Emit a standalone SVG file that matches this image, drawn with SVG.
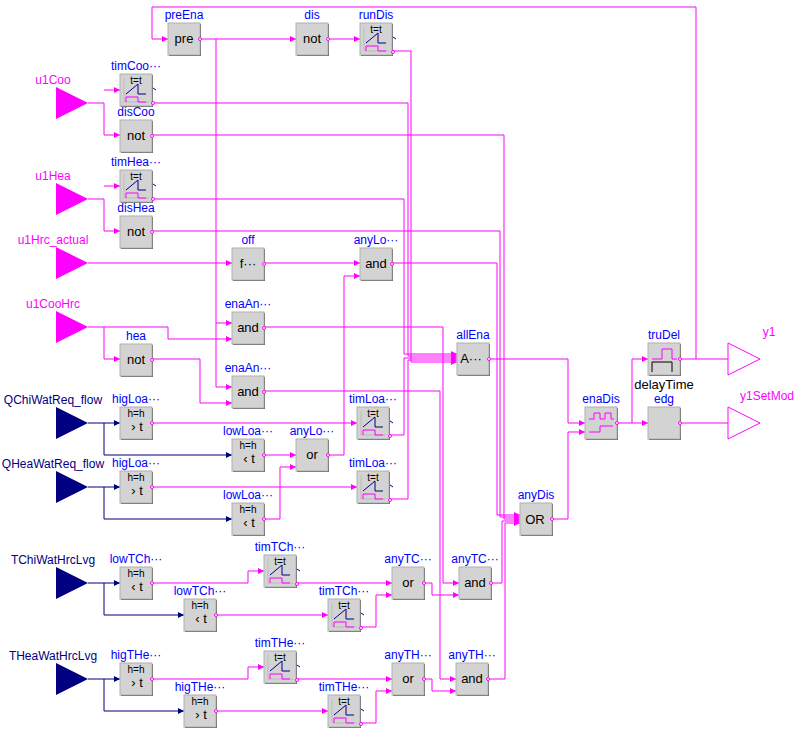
<svg xmlns="http://www.w3.org/2000/svg" xmlns:xlink="http://www.w3.org/1999/xlink" width="800" height="734" viewBox="0 0 800 734">
<style>
text{font-family:"Liberation Sans",Arial,sans-serif}
.n{fill:#0000ff;font-size:12px;text-anchor:middle}
.in{fill:#000;font-size:13px;text-anchor:middle}
.bl{fill:#ff00ff;font-size:12px;text-anchor:middle}
.rl{fill:#000080;font-size:12px;text-anchor:middle}
.c path{fill:none;stroke:#ff00ff;stroke-width:1}
.c path.r{stroke:#000080}
</style>
<defs>
<marker id="a" viewBox="0 0 6 6" refX="6" refY="3" markerUnits="userSpaceOnUse" markerWidth="6" markerHeight="6" orient="auto"><path d="M0,0L6,3L0,6z" fill="#ff00ff"/></marker>
<marker id="ar" viewBox="0 0 6 6" refX="6" refY="3" markerUnits="userSpaceOnUse" markerWidth="6" markerHeight="6" orient="auto"><path d="M0,0L6,3L0,6z" fill="#000080"/></marker>
<g id="box"><rect x="1" y="1" width="32" height="32" fill="#555"/><rect x="0" y="0" width="32" height="32" fill="#d3d3d3" stroke="#b0b0b0"/></g>
<g id="tim"><use xlink:href="#box"/><path d="M4,4V28H29" fill="none" stroke="#bbb"/><text x="16" y="10" font-size="10" text-anchor="middle" fill="#000">t=t</text><path d="M6,20L18,10V20H26" fill="none" stroke="#000080"/><path d="M6,28V23H18V28H26" fill="none" stroke="#ff00ff"/><path d="M33,14l3,2" stroke="#000080"/><circle cx="33" cy="29" r="1.5" fill="#fff" stroke="#ff00ff"/></g>
<g id="hys"><use xlink:href="#box"/><text x="16" y="10" font-size="10" text-anchor="middle" fill="#000">h=h</text><circle cx="32" cy="16" r="1.5" fill="#fff" stroke="#ff00ff"/></g>
<g id="bo"><use xlink:href="#box"/><circle cx="32" cy="16" r="1.5" fill="#fff" stroke="#ff00ff"/></g>
</defs>

<g class="c" id="connectors">
<path d="M200,39H296" marker-end="url(#a)"/>
<path d="M216,39V387H232" marker-end="url(#a)"/>
<path d="M216,323H232" marker-end="url(#a)"/>
<path d="M328,39H360" marker-end="url(#a)"/>
<path d="M680,359H728"/>
<path d="M696,359V7H152V39H168" marker-end="url(#a)"/>
<path d="M88,103H104V135H120" marker-end="url(#a)"/>
<path d="M104,90H120" marker-end="url(#a)"/>
<path d="M88,199H104V231H120" marker-end="url(#a)"/>
<path d="M104,186H120" marker-end="url(#a)"/>
<path d="M88,263H232" marker-end="url(#a)"/>
<path d="M264,263H360" marker-end="url(#a)"/>
<path d="M328,455H344V276H360" marker-end="url(#a)"/>
<path d="M88,327H168V339H232" marker-end="url(#a)"/>
<path d="M104,327V359H120" marker-end="url(#a)"/>
<path d="M152,359H200V403H232" marker-end="url(#a)"/>
<path class="r" d="M88,423H120" marker-end="url(#ar)"/>
<path class="r" d="M104,423V455H232" marker-end="url(#ar)"/>
<path class="r" d="M88,487H120" marker-end="url(#ar)"/>
<path class="r" d="M104,487V519H232" marker-end="url(#ar)"/>
<path d="M152,423H357" marker-end="url(#a)"/>
<path d="M152,487H357" marker-end="url(#a)"/>
<path d="M264,455H296" marker-end="url(#a)"/>
<path d="M264,519H280V467H296" marker-end="url(#a)"/>
<path d="M392,51H411V362H457" marker-end="url(#a)"/>
<path d="M152,103H408V356H457" marker-end="url(#a)"/>
<path d="M152,199H404V354H457" marker-end="url(#a)"/>
<path d="M389,435H404V358H457" marker-end="url(#a)"/>
<path d="M389,499H408V360H457" marker-end="url(#a)"/>
<path d="M264,327H443V583H459" marker-end="url(#a)"/>
<path d="M264,391H440V679H456" marker-end="url(#a)"/>
<path d="M392,263H497V515H520" marker-end="url(#a)"/>
<path d="M152,231H500V517H520" marker-end="url(#a)"/>
<path d="M152,135H504V519H520" marker-end="url(#a)"/>
<path d="M491,583H502V521H520" marker-end="url(#a)"/>
<path d="M488,679H505V523H520" marker-end="url(#a)"/>
<path d="M489,359H568V423H585" marker-end="url(#a)"/>
<path d="M552,519H568V432H585" marker-end="url(#a)"/>
<path d="M617,423H648" marker-end="url(#a)"/>
<path d="M632,423V359H648" marker-end="url(#a)"/>
<path d="M680,423H728"/>
<path class="r" d="M88,583H120" marker-end="url(#ar)"/>
<path class="r" d="M104,583V615H184" marker-end="url(#ar)"/>
<path d="M152,583H248V571H264" marker-end="url(#a)"/>
<path d="M296,583H392" marker-end="url(#a)"/>
<path d="M216,615H328" marker-end="url(#a)"/>
<path d="M360,627H376V595H392" marker-end="url(#a)"/>
<path d="M424,583H432V595H459" marker-end="url(#a)"/>
<path class="r" d="M88,679H120" marker-end="url(#ar)"/>
<path class="r" d="M104,679V711H184" marker-end="url(#ar)"/>
<path d="M152,679H248V667H264" marker-end="url(#a)"/>
<path d="M296,679H392" marker-end="url(#a)"/>
<path d="M216,711H328" marker-end="url(#a)"/>
<path d="M360,723H376V691H392" marker-end="url(#a)"/>
<path d="M424,679H432V691H456" marker-end="url(#a)"/>
</g>

<g id="u1Coo"><path d="M56,87L88,103L56,119z" fill="#ff00ff"/><text class="bl" x="53" y="84">u1Coo</text></g>
<g id="u1Hea"><path d="M56,183L88,199L56,215z" fill="#ff00ff"/><text class="bl" x="53" y="180">u1Hea</text></g>
<g id="u1Hrc_actual"><path d="M56,247L88,263L56,279z" fill="#ff00ff"/><text class="bl" x="53" y="244">u1Hrc_actual</text></g>
<g id="u1CooHrc"><path d="M56,311L88,327L56,343z" fill="#ff00ff"/><text class="bl" x="53" y="308">u1CooHrc</text></g>
<g id="QChiWatReq_flow"><path d="M56,407L88,423L56,439z" fill="#000080"/><text class="rl" x="53" y="404">QChiWatReq_flow</text></g>
<g id="QHeaWatReq_flow"><path d="M56,471L88,487L56,503z" fill="#000080"/><text class="rl" x="53" y="468">QHeaWatReq_flow</text></g>
<g id="TChiWatHrcLvg"><path d="M56,567L88,583L56,599z" fill="#000080"/><text class="rl" x="53" y="564">TChiWatHrcLvg</text></g>
<g id="THeaWatHrcLvg"><path d="M56,663L88,679L56,695z" fill="#000080"/><text class="rl" x="53" y="660">THeaWatHrcLvg</text></g>
<g id="y1"><path d="M728,343L760,359L728,375z" fill="#fff" stroke="#ff00ff"/><text class="bl" x="769" y="336">y1</text></g>
<g id="y1SetMod"><path d="M728,407L760,423L728,439z" fill="#fff" stroke="#ff00ff"/><text class="bl" x="767" y="400">y1SetMod</text></g>

<g id="preEna" transform="translate(168,23)"><use xlink:href="#bo"/><text class="in" x="16" y="20">pre</text><text class="n" x="16" y="-4">preEna</text></g>
<g id="dis" transform="translate(296,23)"><use xlink:href="#bo"/><text class="in" x="16" y="20">not</text><text class="n" x="16" y="-4">dis</text></g>
<g id="runDis" transform="translate(360,23)"><use xlink:href="#tim"/><text class="n" x="16" y="-4">runDis</text></g>
<g id="timCoo" transform="translate(120,74)"><use xlink:href="#tim"/><text class="n" x="16" y="-4">timCoo···</text></g>
<g id="disCoo" transform="translate(120,120)"><use xlink:href="#bo"/><text class="in" x="16" y="20">not</text><text class="n" x="16" y="-4">disCoo</text></g>
<g id="timHea" transform="translate(120,170)"><use xlink:href="#tim"/><text class="n" x="16" y="-4">timHea···</text></g>
<g id="disHea" transform="translate(120,216)"><use xlink:href="#bo"/><text class="in" x="16" y="20">not</text><text class="n" x="16" y="-4">disHea</text></g>
<g id="off" transform="translate(232,248)"><use xlink:href="#bo"/><text class="in" x="16" y="20">f···</text><text class="n" x="16" y="-4">off</text></g>
<g id="anyLoaAnd" transform="translate(360,248)"><use xlink:href="#bo"/><text class="in" x="16" y="20">and</text><text class="n" x="16" y="-4">anyLo···</text></g>
<g id="enaAnd1" transform="translate(232,312)"><use xlink:href="#bo"/><text class="in" x="16" y="20">and</text><text class="n" x="16" y="-4">enaAn···</text></g>
<g id="hea" transform="translate(120,344)"><use xlink:href="#bo"/><text class="in" x="16" y="20">not</text><text class="n" x="16" y="-4">hea</text></g>
<g id="enaAnd2" transform="translate(232,376)"><use xlink:href="#bo"/><text class="in" x="16" y="20">and</text><text class="n" x="16" y="-4">enaAn···</text></g>
<g id="higLoa1" transform="translate(120,407)"><use xlink:href="#hys"/><text class="in" x="17" y="24">› t</text><text class="n" x="16" y="-4">higLoa···</text></g>
<g id="lowLoa1" transform="translate(232,439)"><use xlink:href="#hys"/><text class="in" x="17" y="24">‹ t</text><text class="n" x="16" y="-4">lowLoa···</text></g>
<g id="anyLoaOr" transform="translate(296,439)"><use xlink:href="#bo"/><text class="in" x="16" y="20">or</text><text class="n" x="16" y="-4">anyLo···</text></g>
<g id="timLoa1" transform="translate(357,407)"><use xlink:href="#tim"/><text class="n" x="16" y="-4">timLoa···</text></g>
<g id="higLoa2" transform="translate(120,471)"><use xlink:href="#hys"/><text class="in" x="17" y="24">› t</text><text class="n" x="16" y="-4">higLoa···</text></g>
<g id="timLoa2" transform="translate(357,471)"><use xlink:href="#tim"/><text class="n" x="16" y="-4">timLoa···</text></g>
<g id="lowLoa2" transform="translate(232,503)"><use xlink:href="#hys"/><text class="in" x="17" y="24">‹ t</text><text class="n" x="16" y="-4">lowLoa···</text></g>
<g id="allEna" transform="translate(457,343)"><use xlink:href="#bo"/><text class="in" x="14" y="20">A···</text><text class="n" x="16" y="-4">allEna</text></g>
<g id="anyDis" transform="translate(520,503)"><use xlink:href="#bo"/><text class="in" x="15" y="21" font-size="14">OR</text><text class="n" x="16" y="-4">anyDis</text></g>
<g id="enaDis" transform="translate(585,407)"><use xlink:href="#bo"/><path d="M4,12H9V6H15V12H20V6H26V12H29" fill="none" stroke="#ff00ff"/><path d="M4,25H15V19H28" fill="none" stroke="#ff00ff"/><text class="n" x="16" y="-4">enaDis</text></g>
<g id="truDel" transform="translate(648,343)"><use xlink:href="#bo"/><path d="M4,16H14V6H24V16H29" fill="none" stroke="#ff00ff"/><path d="M4,29V19H24V29" fill="none" stroke="#000"/><text class="n" x="16" y="-4">truDel</text><text class="in" x="16" y="46">delayTime</text></g>
<g id="edg" transform="translate(648,407)"><use xlink:href="#bo"/><text class="n" x="16" y="-4">edg</text></g>
<g id="lowTCh1" transform="translate(120,567)"><use xlink:href="#hys"/><text class="in" x="17" y="24">‹ t</text><text class="n" x="16" y="-4">lowTCh···</text></g>
<g id="timTCh1" transform="translate(264,555)"><use xlink:href="#tim"/><text class="n" x="16" y="-4">timTCh···</text></g>
<g id="lowTCh2" transform="translate(184,599)"><use xlink:href="#hys"/><text class="in" x="17" y="24">‹ t</text><text class="n" x="16" y="-4">lowTCh···</text></g>
<g id="timTCh2" transform="translate(328,599)"><use xlink:href="#tim"/><text class="n" x="16" y="-4">timTCh···</text></g>
<g id="anyTCOr" transform="translate(392,567)"><use xlink:href="#bo"/><text class="in" x="16" y="20">or</text><text class="n" x="16" y="-4">anyTC···</text></g>
<g id="anyTCAnd" transform="translate(459,567)"><use xlink:href="#bo"/><text class="in" x="16" y="20">and</text><text class="n" x="16" y="-4">anyTC···</text></g>
<g id="higTHe1" transform="translate(120,663)"><use xlink:href="#hys"/><text class="in" x="17" y="24">› t</text><text class="n" x="16" y="-4">higTHe···</text></g>
<g id="timTHe1" transform="translate(264,651)"><use xlink:href="#tim"/><text class="n" x="16" y="-4">timTHe···</text></g>
<g id="higTHe2" transform="translate(184,695)"><use xlink:href="#hys"/><text class="in" x="17" y="24">› t</text><text class="n" x="16" y="-4">higTHe···</text></g>
<g id="timTHe2" transform="translate(328,695)"><use xlink:href="#tim"/><text class="n" x="16" y="-4">timTHe···</text></g>
<g id="anyTHOr" transform="translate(392,663)"><use xlink:href="#bo"/><text class="in" x="16" y="20">or</text><text class="n" x="16" y="-4">anyTH···</text></g>
<g id="anyTHAnd" transform="translate(456,663)"><use xlink:href="#bo"/><text class="in" x="16" y="20">and</text><text class="n" x="16" y="-4">anyTH···</text></g>
</svg>
